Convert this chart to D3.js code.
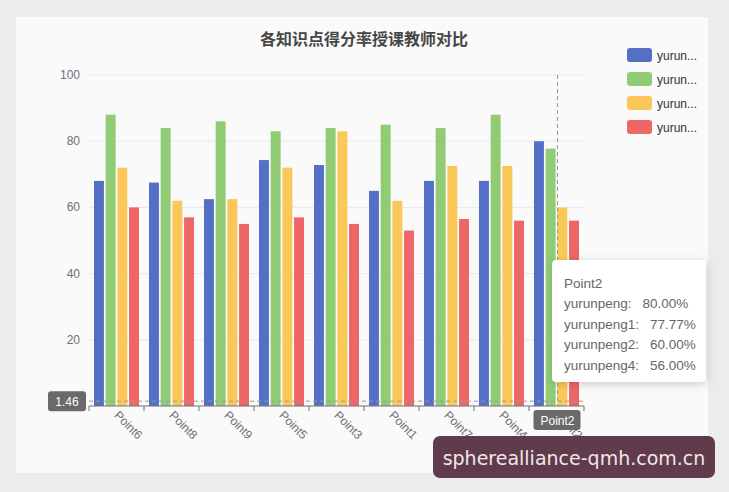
<!DOCTYPE html>
<html>
<head>
<meta charset="utf-8">
<script src="https://cdn.jsdelivr.net/npm/d3@7"></script>
<style>
  html, body { margin: 0; padding: 0; background: #ececec; }
  svg { display: block; }
  text { font-family: "Liberation Sans", "Noto Sans CJK SC", sans-serif; }
</style>
</head>
<body>
<svg id="chart" width="729" height="492"></svg>
<script>
const categories = ["Point6", "Point8", "Point9", "Point5", "Point3", "Point1", "Point7", "Point4", "Point2"];
const seriesNames = ["yurunpeng", "yurunpeng1", "yurunpeng2", "yurunpeng4"];
const yurunpeng  = [68, 67.5, 62.5, 74.3, 72.8, 65, 68, 68, 80];
const yurunpeng1 = [88, 84, 86, 83, 84, 85, 84, 88, 77.77];
const yurunpeng2 = [72, 62, 62.5, 72, 83, 62, 72.5, 72.5, 60];
const yurunpeng4 = [60, 57, 55, 57, 55, 53, 56.5, 56, 56];
const yTicks = [20, 40, 60, 80, 100];
const colors = ["#5470c6", "#91cc75", "#fac858", "#ee6666"];
const pointerValue = 1.46;
const hovered = "Point2";

const values = [yurunpeng, yurunpeng1, yurunpeng2, yurunpeng4];
const svg = d3.select("#chart");

// card background
svg.append("rect").attr("x", 16).attr("y", 17).attr("width", 692).attr("height", 456)
  .attr("fill", "#fafafa");

const x = d3.scaleBand().domain(categories).range([89, 584]);
const xs = d3.scaleBand().domain(seriesNames).range([5, x.bandwidth() - 5]).paddingInner(0.15);
const y = d3.scaleLinear().domain([0, 100]).range([406, 75]);

// title
svg.append("text").attr("x", 364).attr("y", 45).attr("text-anchor", "middle")
  .style("font-family", "'Noto Sans CJK SC', sans-serif")
  .attr("font-size", 16).attr("font-weight", "bold").attr("fill", "#464646")
  .text("各知识点得分率授课教师对比");

// grid
svg.append("g").selectAll("line").data(yTicks).join("line")
  .attr("x1", 89).attr("x2", 584)
  .attr("y1", d => y(d)).attr("y2", d => y(d))
  .attr("stroke", "#e6e9f0").attr("stroke-width", 1);

svg.append("g").selectAll("text").data(yTicks).join("text")
  .attr("x", 80).attr("y", d => y(d) + 4).attr("text-anchor", "end")
  .attr("font-size", 12).attr("fill", "#6e7079").text(d => d);

// bars
const groups = svg.append("g").selectAll("g").data(categories).join("g")
  .attr("transform", d => `translate(${x(d)},0)`);
groups.selectAll("rect")
  .data((c, i) => seriesNames.map((s, k) => ({ s, k, v: values[k][i] })))
  .join("rect")
  .attr("x", d => xs(d.s)).attr("width", xs.bandwidth())
  .attr("y", d => y(d.v)).attr("height", d => y(0) - y(d.v))
  .attr("fill", d => colors[d.k]);

// x axis
svg.append("line").attr("x1", 89).attr("x2", 584).attr("y1", y(0)).attr("y2", y(0))
  .attr("stroke", "#6e7079");
const edges = categories.map(c => x(c)).concat([x.range()[1]]);
svg.append("g").selectAll("line").data(edges).join("line")
  .attr("x1", d => d).attr("x2", d => d).attr("y1", y(0)).attr("y2", y(0) + 5)
  .attr("stroke", "#6e7079");
svg.append("g").selectAll("text").data(categories).join("text")
  .attr("transform", d => `translate(${x(d) + x.bandwidth() / 2 - 3},${y(0) + 10}) rotate(45)`)
  .attr("font-size", 12).attr("fill", "#6e7079").text(d => d);

// axis pointer
const px = x(hovered) + x.bandwidth() / 2 + 1;
svg.append("line").attr("x1", px).attr("x2", px).attr("y1", y(100)).attr("y2", y(0))
  .attr("stroke", "#999").attr("stroke-dasharray", "4,3");
svg.append("line").attr("x1", 89).attr("x2", 584).attr("y1", y(pointerValue)).attr("y2", y(pointerValue))
  .attr("stroke", "#999").attr("stroke-dasharray", "4,3");

svg.append("rect").attr("x", 48).attr("y", y(pointerValue) - 10).attr("width", 38).attr("height", 20)
  .attr("rx", 3).attr("fill", "#6a6a6a");
svg.append("text").attr("x", 67).attr("y", y(pointerValue) + 4.5).attr("text-anchor", "middle")
  .attr("font-size", 12).attr("fill", "#fff").text(pointerValue.toFixed(2));

svg.append("rect").attr("x", px - 24).attr("y", 410).attr("width", 47).attr("height", 20)
  .attr("rx", 3).attr("fill", "#6a6a6a");
svg.append("text").attr("x", px).attr("y", 424.5).attr("text-anchor", "middle")
  .attr("font-size", 12).attr("fill", "#fff").text(hovered);

// legend
const lg = svg.append("g").selectAll("g").data(seriesNames).join("g")
  .attr("transform", (d, i) => `translate(627,${48 + i * 24})`);
lg.append("rect").attr("width", 25).attr("height", 14).attr("rx", 3)
  .attr("fill", (d, i) => colors[i]);
lg.append("text").attr("x", 30).attr("y", 11.5).attr("font-size", 12).attr("fill", "#333")
  .text(d => d.slice(0, 5) + "...");

// tooltip
const hi = categories.indexOf(hovered);
const defs = svg.append("defs");
const f = defs.append("filter").attr("id", "sh").attr("x", "-20%").attr("y", "-20%")
  .attr("width", "140%").attr("height", "140%");
f.append("feDropShadow").attr("dx", 1).attr("dy", 2).attr("stdDeviation", 4)
  .attr("flood-color", "#000").attr("flood-opacity", 0.18);
const tip = svg.append("g").attr("transform", "translate(552,260)");
tip.append("rect").attr("width", 154).attr("height", 122).attr("rx", 4)
  .attr("fill", "#fff").attr("filter", "url(#sh)");
tip.append("text").attr("x", 12).attr("y", 28).attr("font-size", 13.5).attr("fill", "#666").text(hovered);
const rows = tip.selectAll("text.row").data(seriesNames).join("text").attr("class", "row")
  .attr("x", 12).attr("y", (d, i) => 48 + i * 20.5)
  .attr("font-size", 13.5).attr("fill", "#666");
rows.append("tspan").text(d => d + ":");
rows.append("tspan").attr("dx", 11).text((d, k) => values[k][hi].toFixed(2) + "%");

// watermark
svg.append("rect").attr("x", 433).attr("y", 436).attr("width", 282).attr("height", 42).attr("rx", 7)
  .attr("fill", "#5f3b4b");
svg.append("text").attr("x", 574).attr("y", 464.5).attr("text-anchor", "middle")
  .style("font-family", "'DejaVu Sans', sans-serif")
  .attr("font-size", 19).attr("fill", "#f2e6ea").text("spherealliance-qmh.com.cn");
</script>
</body>
</html>
